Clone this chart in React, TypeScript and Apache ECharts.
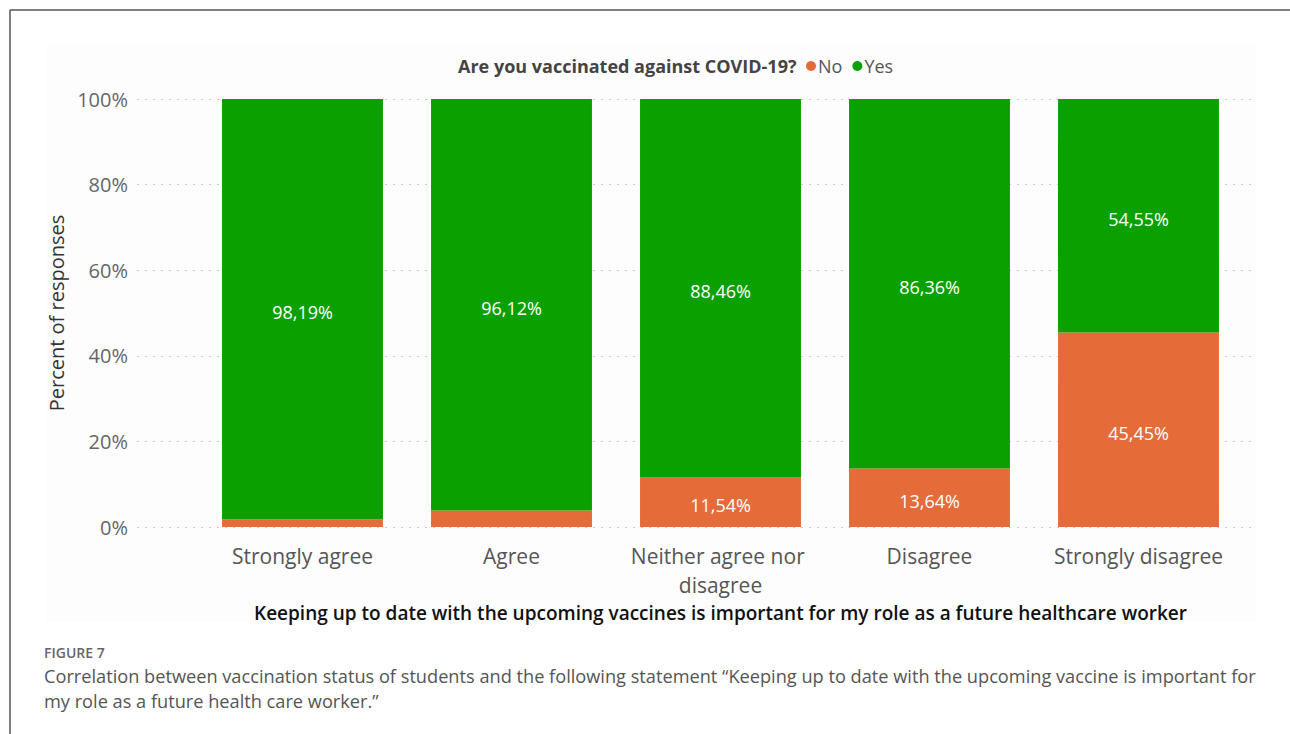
import React, { useEffect, useRef } from "react";
import * as echarts from "echarts";

const categories = ["Strongly agree", "Agree", "Neither agree nor disagree", "Disagree", "Strongly disagree"];
const noValues = [1.81, 3.88, 11.54, 13.64, 45.45];
const yesValues = [98.19, 96.12, 88.46, 86.36, 54.55];
const yTicks = [0, 20, 40, 60, 80, 100];
const captionLines = [
  "Correlation between vaccination status of students and the following statement \u201cKeeping up to date with the upcoming vaccine is important for",
  "my role as a future health care worker.\u201d",
];

const GREEN = "#0aa100";
const ORANGE = "#e56b39";
const FONT = "'Open Sans', 'Noto Sans', sans-serif";

const fmt = (v: number) => v.toFixed(2).replace(".", ",") + "%";

export default function App() {
  const ref = useRef<HTMLDivElement>(null);
  useEffect(() => {
    document.body.style.margin = "0";
    const chart = echarts.init(ref.current!, null, { renderer: "svg" });
    const label = {
      show: true,
      position: "inside",
      offset: [0, 3],
      color: "#ffffff",
      fontSize: 18,
      fontFamily: FONT,
      formatter: (p: any) => (p.value >= 5 ? fmt(p.value) : ""),
    };
    chart.setOption({
      animation: false,
      backgroundColor: "#ffffff",
      textStyle: { fontFamily: FONT },
      title: {
        text: "Are you vaccinated against COVID-19?",
        left: 453,
        top: 52,
        textStyle: { fontSize: 18, fontWeight: "bold", color: "#444444", fontFamily: FONT },
      },
      legend: {
        left: 801,
        top: 52,
        icon: "circle",
        itemWidth: 10,
        itemHeight: 10,
        itemGap: 10,
        textStyle: { fontSize: 18, color: "#555555", fontFamily: FONT, padding: [0, 0, 0, -3] },
        data: ["No", "Yes"],
      },
      grid: [
        { left: 198, right: 47, top: 99, bottom: 207 },
        { left: 137, right: 35, top: 99, bottom: 207 },
      ],
      xAxis: [
        {
          type: "category",
          gridIndex: 0,
          data: categories,
          axisLine: { show: false },
          axisTick: { show: false },
          axisLabel: {
            fontSize: 21,
            color: "#555555",
            margin: 14,
            width: 200,
            overflow: "break",
            lineHeight: 29,
            interval: 0,
          },
          name: "Keeping up to date with the upcoming vaccines is important for my role as a future healthcare worker",
          nameLocation: "middle",
          nameGap: 72,
          nameTextStyle: { fontSize: 19, fontWeight: 600, color: "#111111", fontFamily: FONT },
        },
        {
          type: "value",
          gridIndex: 1,
          show: false,
        },
      ],
      yAxis: [
        { type: "value", gridIndex: 0, min: 0, max: 100, interval: 20, show: false },
        {
          type: "value",
          gridIndex: 1,
          min: 0,
          max: 100,
          interval: 20,
          axisLine: { show: false },
          axisTick: { show: false },
          axisLabel: { fontSize: 20, color: "#666666", margin: 9, formatter: (v: number) => (yTicks.includes(v) ? v + "%" : "") },
          splitLine: { show: true, lineStyle: { type: [2, 6], color: "#c8c8c8", width: 1 } },
          name: "Percent of responses",
          nameLocation: "middle",
          nameGap: 65,
          nameTextStyle: { fontSize: 20, color: "#333333", fontFamily: FONT },
        },
      ],
      series: [
        {
          name: "No",
          type: "bar",
          stack: "s",
          xAxisIndex: 0,
          yAxisIndex: 0,
          data: noValues,
          barWidth: "77%",
          itemStyle: { color: ORANGE },
          label,
        },
        {
          name: "Yes",
          type: "bar",
          stack: "s",
          xAxisIndex: 0,
          yAxisIndex: 0,
          data: yesValues,
          barWidth: "77%",
          itemStyle: { color: GREEN },
          label,
        },
      ],
      graphic: [
        { type: "rect", z: -10, shape: { x: 46, y: 45, width: 1210, height: 577 }, style: { fill: "#fdfdfd" }, silent: true },
        { type: "line", shape: { x1: 10, y1: 10, x2: 1290, y2: 10 }, style: { stroke: "#555555", lineWidth: 1.5 } },
        { type: "line", shape: { x1: 10, y1: 10, x2: 10, y2: 734 }, style: { stroke: "#555555", lineWidth: 1.5 } },
        {
          type: "text",
          left: 44,
          top: 645,
          style: { text: "FIGURE 7", fontSize: 14, fontWeight: 600, fill: "#666666", fontFamily: FONT },
        },
        ...captionLines.map((t, i) => ({
          type: "text",
          x: 44,
          y: 675.5 + i * 25,
          style: {
            text: t,
            fontSize: 18.2,
            fill: "#555555",
            fontFamily: FONT,
            textVerticalAlign: "middle",
            verticalAlign: "middle",
          },
        })),
      ],
    });
    return () => chart.dispose();
  }, []);
  return <div ref={ref} style={{ width: 1290, height: 734 }} />;
}
